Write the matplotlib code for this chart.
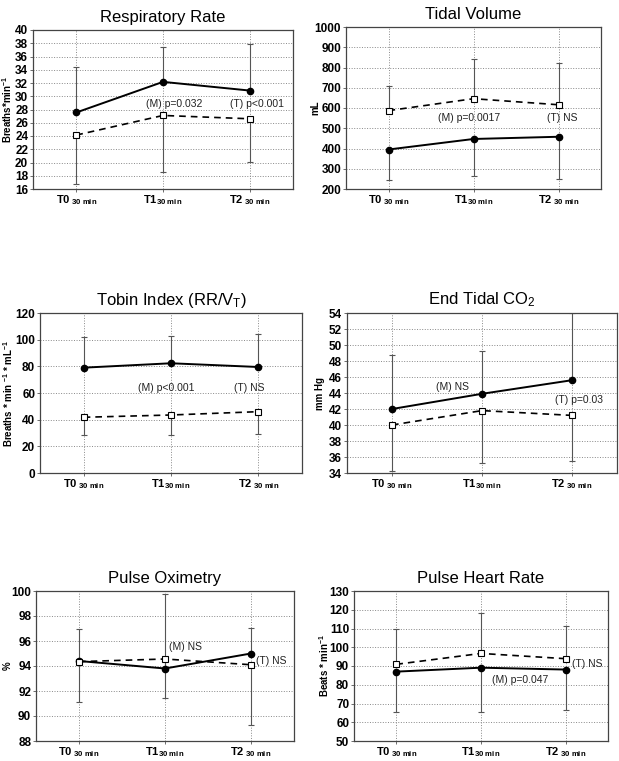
import matplotlib
matplotlib.use("Agg")
import matplotlib.pyplot as plt

plt.rcParams['font.family'] = ['Liberation Sans', 'DejaVu Sans']
plt.rcParams['mathtext.fontset'] = 'custom'
plt.rcParams['mathtext.rm'] = 'Liberation Sans'
plt.rcParams['mathtext.bf'] = 'Liberation Sans:bold'
plt.rcParams['mathtext.it'] = 'Liberation Sans:italic'

times = [0, 1, 2]
time_labels = [r'T0$_{\mathbf{\ 30\ min}}$', r'T1$_{\mathbf{30\ min}}$', r'T2$_{\mathbf{\ 30\ min}}$']

# means and one-sided SD bars (solid = filled circles, dashed = open squares)
rr_solid = [27.55, 32.17, 30.86]
rr_solid_sd = [6.85, 5.23, 7.04]
rr_dashed = [24.14, 27.1, 26.6]
rr_dashed_sd = [7.34, 8.6, 6.5]

tv_solid = [395, 447, 458]
tv_solid_sd = [152, 185, 209]
tv_dashed = [587, 646, 616]
tv_dashed_sd = [123, 196, 206]

tobin_solid = [79, 82.3, 79.5]
tobin_solid_sd = [23, 20.7, 24.5]
tobin_dashed = [41.8, 43.5, 46]
tobin_dashed_sd = [13.5, 15, 16.5]

co2_solid = [42.0, 43.9, 45.6]
co2_solid_sd = [6.7, 5.4, 8.4]
co2_dashed = [40.0, 41.8, 41.2]
co2_dashed_sd = [5.7, 6.6, 5.7]

spo2_solid = [94.4, 93.8, 95.0]
spo2_solid_sd = [2.55, 5.96, 2.08]
spo2_dashed = [94.35, 94.56, 94.1]
spo2_dashed_sd = [3.22, 3.14, 4.8]

hr_solid = [87, 89.1, 88.1]
hr_solid_sd = [21.3, 23.4, 21.7]
hr_dashed = [90.9, 96.7, 93.9]
hr_dashed_sd = [18.7, 21.8, 17.4]

W, H = 619, 761
fig = plt.figure(figsize=(W / 100, H / 100), dpi=100)


def px_axes(x0, y0, x1, y1):
    ax = fig.add_axes([x0 / W, 1 - y1 / H, (x1 - x0) / W, (y1 - y0) / H])
    ax.width_px = x1 - x0
    return ax


def panel(ax, title, ylabel, label_dx, solid, solid_sd, solid_up, dashed, dashed_sd,
          ylim, ystep, notes):
    ax.set_xlim(-0.5, 2.5)
    ax.set_ylim(*ylim)
    ax.set_yticks([ylim[0] + i * ystep for i in range(int(round((ylim[1] - ylim[0]) / ystep)) + 1)])
    ax.set_xticks(times)
    ax.set_xticklabels(time_labels, fontsize=8, fontweight='bold')
    for lab in ax.get_yticklabels():
        lab.set_fontweight('bold')
        lab.set_fontsize(8.5)
    ax.grid(True, color='#888888', linestyle=':', linewidth=0.7)
    ax.set_axisbelow(True)
    ax.tick_params(length=2, width=0.6, pad=1.5, color='#555555')
    ax.tick_params(axis='x', pad=1)
    for s in ax.spines.values():
        s.set_color('#444444')
        s.set_linewidth(0.9)

    zeros = [0, 0, 0]
    if solid_up:
        s_err, d_err = [zeros, solid_sd], [dashed_sd, zeros]
    else:
        s_err, d_err = [solid_sd, zeros], [zeros, dashed_sd]
    ax.errorbar(times, solid, yerr=s_err, fmt='none', ecolor='#555555',
                elinewidth=0.8, capsize=2.5, capthick=0.8)
    ax.errorbar(times, dashed, yerr=d_err, fmt='none', ecolor='#555555',
                elinewidth=0.8, capsize=2.5, capthick=0.8)
    ax.plot(times, solid, color='black', linewidth=1.4, marker='o',
            markersize=4.5, markerfacecolor='black', zorder=5)
    ax.plot(times, dashed, color='black', linewidth=1.2, linestyle=(0, (4, 3)),
            marker='s', markersize=4.5, markerfacecolor='white',
            markeredgecolor='black', markeredgewidth=0.8, zorder=5)
    for x, y, txt in notes:
        ax.text(x, y, txt, ha='center', va='center', fontsize=7.5, color='#222222', zorder=6)
    ax.set_title(title, fontsize=12, pad=6)
    ax.set_ylabel(ylabel, fontsize=7, fontweight='bold')
    ax.yaxis.label.set_verticalalignment('center')
    ax.yaxis.label.set_rotation_mode('default')
    ax.yaxis.set_label_coords(-label_dx / ax.width_px, 0.5)


ax1 = px_axes(33, 30, 293, 189)
panel(ax1, 'Respiratory Rate', r'Breaths*min$^{\mathbf{-1}}$', 26,
      rr_solid, rr_solid_sd, True, rr_dashed, rr_dashed_sd, (16, 40), 2,
      [(1.13, 28.9, '(M) p=0.032'), (2.09, 28.8, '(T) p<0.001')])

ax2 = px_axes(346, 27, 601, 189)
panel(ax2, 'Tidal Volume', 'mL', 31,
      tv_solid, tv_solid_sd, False, tv_dashed, tv_dashed_sd, (200, 1000), 100,
      [(0.95, 549, '(M) p=0.0017'), (2.04, 549, '(T) NS')])

ax3 = px_axes(40, 313, 302, 473)
panel(ax3, r'Tobin Index (RR/V$_\mathrm{T}$)', r'Breaths * min $^{\mathbf{-1}}$ * mL$^{\mathbf{-1}}$', 32,
      tobin_solid, tobin_solid_sd, True, tobin_dashed, tobin_dashed_sd, (0, 120), 20,
      [(0.94, 64, '(M) p<0.001'), (1.9, 64, '(T) NS')])

ax4 = px_axes(347, 313, 617, 473)
panel(ax4, r'End Tidal CO$_\mathrm{2}$', 'mm Hg', 27,
      co2_solid, co2_solid_sd, True, co2_dashed, co2_dashed_sd, (34, 54), 2,
      [(0.67, 44.8, '(M) NS'), (2.08, 43.1, '(T) p=0.03')])

ax5 = px_axes(36, 591, 294, 741)
panel(ax5, 'Pulse Oximetry', '%', 28,
      spo2_solid, spo2_solid_sd, True, spo2_dashed, spo2_dashed_sd, (88, 100), 2,
      [(1.24, 95.5, '(M) NS'), (2.24, 94.4, '(T) NS')])

ax6 = px_axes(354, 591, 608, 741)
panel(ax6, 'Pulse Heart Rate', r'Beats * min$^{\mathbf{-1}}$', 30,
      hr_solid, hr_solid_sd, False, hr_dashed, hr_dashed_sd, (50, 130), 10,
      [(1.46, 82.4, '(M) p=0.047'), (2.26, 90.9, '(T) NS')])

fig.savefig('out.png', dpi=100)
